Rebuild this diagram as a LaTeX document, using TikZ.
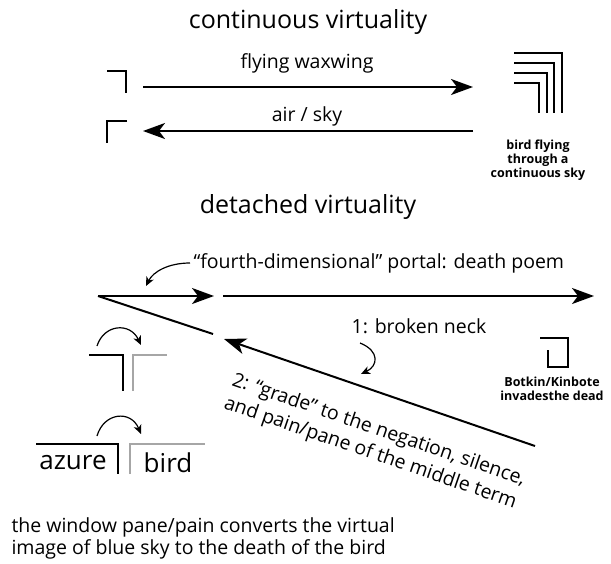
\documentclass[tikz,border=0pt]{standalone}
\usepackage{fontspec}
\setmainfont{Open Sans}
\usetikzlibrary{arrows.meta}
\definecolor{pane}{HTML}{A6A6A6}
\tikzset{
  bigarrow/.style={line width=2pt,-{Stealth[length=22pt,width=16pt,inset=6pt]}},
  smallarrow/.style={line width=1.2pt,-{Stealth[length=9pt,width=8pt,inset=2.5pt]}},
  corner/.style={line width=2pt},
  panecorner/.style={line width=2pt,draw=pane},
  title/.style={font=\fontsize{25}{30}\selectfont},
  label/.style={font=\fontsize{19.5}{23}\selectfont},
  note/.style={font=\fontsize{12.5}{14}\selectfont\bfseries,align=center},
  slanted/.style={label,rotate=-19,anchor=base west,inner sep=0pt},
}
\begin{document}
\begin{tikzpicture}[x=1pt,y=-1pt]
\useasboundingbox (0,0) rectangle (611,563);

% ---- continuous virtuality ----
\node[title] (t1) at (308,22) {continuous virtuality};

\draw[corner] (107,71) -- (126,71) -- (126,93);
\draw[corner] (127,121) -- (107,121) -- (107,143);

\coordinate (fl) at (143,87);
\coordinate (fr) at (473,87);
\draw[bigarrow] (fl) -- (fr);
\node[label] (fw) at (307,63) {flying waxwing};
\coordinate (al) at (143,131);
\coordinate (ar) at (473,131);
\draw[bigarrow] (ar) -- (al);
\node[label] (as) at (307,116) {air / sky};

\foreach \i/\x/\y in {0/562/53, 1/554/63, 2/547/73, 3/539/83}
  \draw[line width=1.8pt] (514,\y) -- (\x,\y) -- (\x,113);
\node[note] (bf) at (538,160) {bird flying\\through a\\continuous sky};

% ---- detached virtuality ----
\node[title] (t2) at (308,207) {detached virtuality};

\coordinate (apex) at (98,296);
\coordinate (ptip) at (214,296);
\coordinate (lowend) at (213,334);
\draw[bigarrow] (apex) -- (ptip);
\draw[line width=2pt] (apex) -- (lowend);

\node[label,anchor=west] (portal) at (190,263) {“fourth-dimensional” portal: death poem};
\draw[smallarrow] (portal.west) .. controls (168,263) and (153,272) .. (146,286);

\coordinate (ls) at (223,296);
\coordinate (le) at (594,296);
\draw[bigarrow] (ls) -- (le);

\coordinate (ss) at (535,446);
\coordinate (se) at (224,339);
\draw[bigarrow] (ss) -- (se);

\node[label] (bn) at (419,326) {1: broken neck};
\draw[smallarrow] (360,343) .. controls (380,351) and (378,366) .. (361,374);

% two left-aligned lines running along the slanted arrow
\node[slanted] (g1) at (231,385) {2: “grade” to the negation, silence,};
\node[slanted] (g2) at (223,408) {and pain/pane of the middle term};

\draw[line width=1.8pt] (540,338) -- (568,338) -- (568,367) -- (548,367) -- (548,350);
\node[note] (bk) at (552,389) {Botkin/Kinbote\\invadesthe dead};

% ---- window pane symbols ----
\draw[smallarrow] (97,346) .. controls (104,324) and (130,322) .. (141,345);
\draw[corner] (89,355) -- (123,355) -- (123,391);
\draw[panecorner] (133,391) -- (133,355) -- (167,355);

\draw[smallarrow] (97,436) .. controls (104,412) and (131,410) .. (141,434);
\draw[corner] (36,444) -- (118,444) -- (118,474);
\draw[panecorner] (130,474) -- (130,444) -- (205,444);
\node[title,font=\fontsize{26}{30}\selectfont] (az) at (73,463) {azure};
\node[title,font=\fontsize{26}{30}\selectfont] (bd) at (168,463) {bird};

\node[anchor=west,align=left,font=\fontsize{19.5}{22}\selectfont] (cap) at (8,538)
  {the window pane/pain converts the virtual\\image of blue sky to the death of the bird};
\end{tikzpicture}
\end{document}
